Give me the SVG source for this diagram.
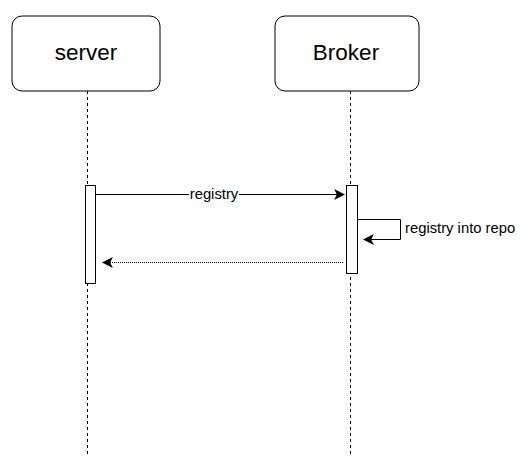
<svg xmlns="http://www.w3.org/2000/svg" width="529" height="470" viewBox="0 0 529 470">
<style>
.box{fill:#fff;stroke:#000;stroke-width:1}
.life{stroke:#000;stroke-width:1;stroke-dasharray:3 3;fill:none}
.act{fill:#fff;stroke:#000;stroke-width:1}
.msg{stroke:#000;stroke-width:1;fill:none}
.t{font-family:"Liberation Sans",Arial,sans-serif;fill:#000}
</style>
<defs>
<marker id="ah" viewBox="0 0 10 10" refX="9" refY="5" markerWidth="11" markerHeight="11" markerUnits="userSpaceOnUse" orient="auto">
<path d="M0,0 L10,5 L0,10 L2.5,5 Z" fill="#000"/>
</marker>
</defs>
<g id="server">
<line class="life" x1="87.5" y1="91" x2="87.5" y2="455"/>
<rect class="box" x="12" y="16" width="148" height="75" rx="10"/>
<text class="t" x="86" y="60" font-size="22.5" text-anchor="middle">server</text>
<rect class="act" x="85.5" y="185.5" width="10" height="98"/>
</g>
<g id="broker">
<line class="life" x1="350.5" y1="91" x2="350.5" y2="455"/>
<rect class="box" x="275" y="16" width="144" height="75" rx="10"/>
<text class="t" x="346" y="60" font-size="22.5" text-anchor="middle">Broker</text>
<rect class="act" x="346.5" y="185.5" width="11" height="88"/>
</g>
<g id="connectors">
<line class="msg" x1="96" y1="194.5" x2="344" y2="194.5" marker-end="url(#ah)"/>
<rect x="189" y="186" width="50" height="17" fill="#fff"/>
<text class="t" x="214" y="199" font-size="14.8" text-anchor="middle">registry</text>
<path class="msg" d="M358,219.5 H400.5 V239.5 H364" marker-end="url(#ah)"/>
<text class="t" x="405" y="233" font-size="14.8">registry into repo</text>
<line class="msg" x1="343" y1="262.5" x2="103" y2="262.5" stroke-dasharray="1 1" marker-end="url(#ah)"/>
</g>
</svg>
